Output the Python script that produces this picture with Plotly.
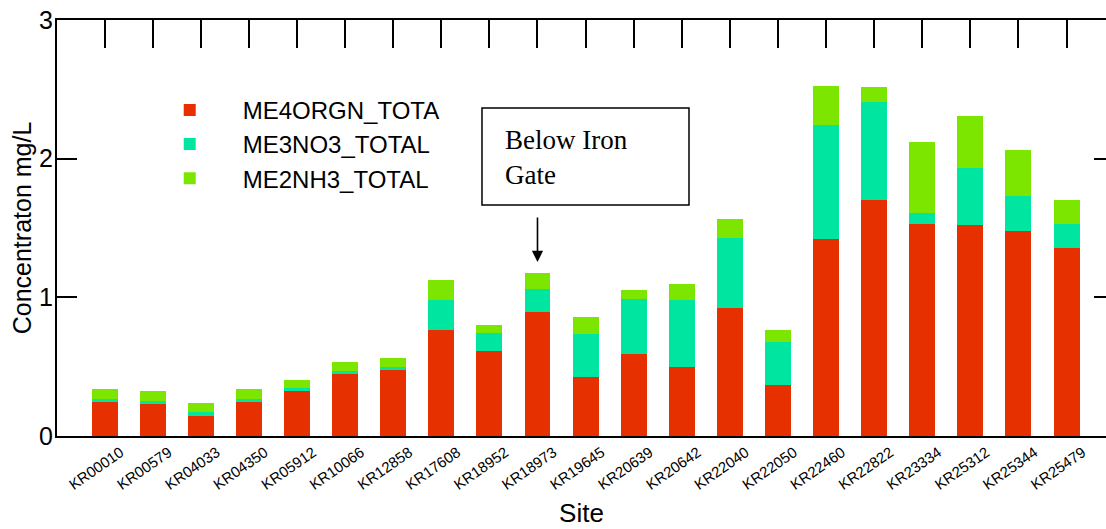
import plotly.graph_objects as go

sites = ["KR00010", "KR00579", "KR04033", "KR04350", "KR05912", "KR10066", "KR12858",
         "KR17608", "KR18952", "KR18973", "KR19645", "KR20639", "KR20642", "KR22040",
         "KR22050", "KR22460", "KR22822", "KR23334", "KR25312", "KR25344", "KR25479"]

# cumulative tops, converted to segment heights below
orgn_top = [0.245, 0.233, 0.146, 0.245, 0.324, 0.445, 0.476, 0.765, 0.615, 0.896, 0.428,
            0.593, 0.495, 0.921, 0.369, 1.420, 1.701, 1.531, 1.521, 1.480, 1.353]
no3_top = [0.268, 0.255, 0.171, 0.268, 0.348, 0.469, 0.500, 0.983, 0.745, 1.062, 0.738,
           0.988, 0.983, 1.430, 0.680, 2.240, 2.410, 1.610, 1.932, 1.733, 1.531]
nh3_top = [0.337, 0.324, 0.236, 0.337, 0.404, 0.536, 0.565, 1.127, 0.800, 1.175, 0.858,
           1.053, 1.098, 1.565, 0.764, 2.526, 2.516, 2.122, 2.307, 2.064, 1.699]

orgn = orgn_top
no3 = [b - a for a, b in zip(orgn_top, no3_top)]
nh3 = [c - b for b, c in zip(no3_top, nh3_top)]

series_names = ["ME4ORGN_TOTA", "ME3NO3_TOTAL", "ME2NH3_TOTAL"]
colors = ["#E63000", "#00E6A0", "#7DE600"]

y_ticks = [0, 1, 2, 3]

fig = go.Figure()
for name, vals, col in zip(series_names, [orgn, no3, nh3], colors):
    fig.add_trace(go.Bar(x=sites, y=vals, name=name, marker=dict(color=col, line=dict(width=0)),
                         width=0.54))

# helper trace so the mirrored top / right axes are drawn
fig.add_trace(go.Scatter(x=sites, y=[None] * len(sites), xaxis="x2", yaxis="y2",
                         showlegend=False, hoverinfo="skip", mode="markers"))

xr = [-0.99, 20.82]
fig.update_layout(
    width=1106, height=529,
    margin=dict(l=57, r=0, t=20, b=93),
    paper_bgcolor="white", plot_bgcolor="white",
    barmode="stack",
    font=dict(family="Liberation Sans", color="black"),
    showlegend=True,
    legend=dict(x=0.076, y=0.837, xanchor="left", yanchor="top", traceorder="normal",
                font=dict(size=24, family="Liberation Sans"), itemwidth=96,
                bgcolor="rgba(0,0,0,0)"),
    xaxis=dict(type="category", categoryorder="array", categoryarray=sites, range=xr,
               showline=True, linecolor="black", linewidth=2, ticks="", tickangle=-35,
               tickfont=dict(size=15), showgrid=False, zeroline=False, automargin=False,
               ticklabelshift=16,
               title=dict(text="Site", font=dict(size=26), standoff=12)),
    xaxis2=dict(type="category", categoryorder="array", categoryarray=sites, range=xr,
                overlaying="x", side="top", anchor="y", showline=True, linecolor="black",
                linewidth=2, ticks="inside", ticklen=28, tickwidth=1.5, tickcolor="black",
                showticklabels=False, showgrid=False, zeroline=False, automargin=False),
    yaxis=dict(range=[0, 3], tickvals=y_ticks, ticks="inside", ticklen=20, tickwidth=2,
               tickcolor="black", showline=True, linecolor="black", linewidth=2,
               tickfont=dict(size=25), showgrid=False, zeroline=False, ticklabelstandoff=-3,
               automargin=False, ticklabeloverflow="allow",
               title=dict(text="Concentraton mg/L", font=dict(size=25), standoff=0)),
    yaxis2=dict(range=[0, 3], tickvals=y_ticks, overlaying="y", side="right", anchor="x",
                ticks="inside", ticklen=12, tickwidth=2, tickcolor="black",
                showticklabels=False, showline=False, showgrid=False, zeroline=False,
                automargin=False),
)

# text box "Below Iron Gate"
fig.add_shape(type="rect", xref="x", yref="y", x0=7.846, x1=12.15, y0=1.665, y1=2.365,
              line=dict(color="black", width=1.5), fillcolor="white")
fig.add_annotation(xref="x", yref="y", x=8.28, y=2.01, xanchor="left", yanchor="middle",
                   text="Below Iron<br>Gate", showarrow=False, align="left",
                   font=dict(family="Liberation Serif", size=27, color="black"))
fig.add_annotation(xref="x", yref="y", x="KR18973", y=1.255, text="", showarrow=True,
                   ax=0, ay=-46, arrowhead=2, arrowsize=1.4, arrowwidth=1.6,
                   arrowcolor="black")

fig.write_html("out.html", config={"displayModeBar": False},
               post_script="document.body.style.margin='0';")
